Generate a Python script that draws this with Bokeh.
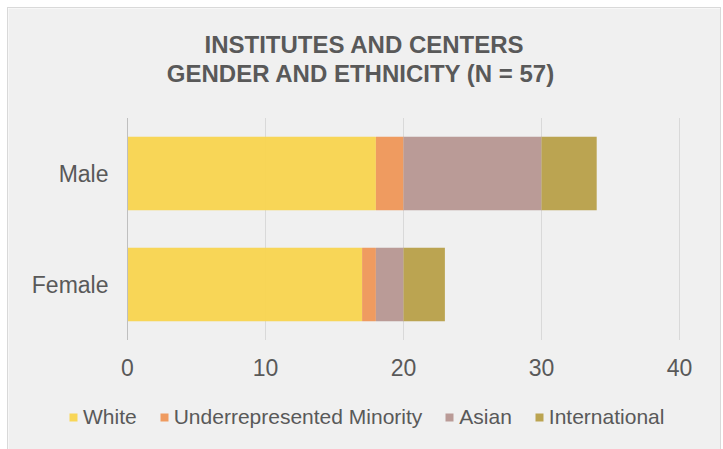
from bokeh.plotting import figure
from bokeh.models import (Range1d, Label, LabelSet, Legend, LegendItem, ColumnDataSource)
from bokeh.core.properties import value
from bokeh.embed import file_html
from bokeh.resources import INLINE

genders = ["Female", "Male"]
groups = ["White", "Underrepresented Minority", "Asian", "International"]
white = [17, 18]
urm = [1, 2]
asian = [2, 10]
international = [3, 4]
colors = ["#F9D44B", "#EF9455", "#B69490", "#B79E45"]
x_ticks = [0, 10, 20, 30, 40]
title_lines = ["INSTITUTES AND CENTERS", "GENDER AND ETHNICITY  (N = 57)"]

FONT = "Liberation Sans"
TXT = "#595959"
BG = "#f0f0f0"
GRID = "#d9d9d9"
AXIS = "#bfbfbf"

# ---- layout (canvas pixels) ----
W, H = 712, 441
X0_PX, X40_PX = 119, 671          # where first / last tick fall
CAT0_PX, PX_PER_CAT = 276, 111    # centre of first category, spacing
ppx = (X40_PX - X0_PX) / (x_ticks[-1] - x_ticks[0])

def x_at(px):
    return x_ticks[0] + (px - X0_PX) / ppx

def y_at(px):
    return (CAT0_PX - px) / PX_PER_CAT

n = len(genders)
idx = list(range(n))
cat_lo, cat_hi = -0.5, n - 0.5

p = figure(width=W, height=H, x_range=Range1d(x_at(0), x_at(W)),
           y_range=Range1d(y_at(H), y_at(0)),
           output_backend="svg", toolbar_location=None,
           x_axis_location=None, y_axis_location=None,
           min_border=0, background_fill_color=BG, border_fill_color=BG,
           margin=(8, 0, 0, 8), styles={"outline": "1px solid #d9d9d9"})
p.outline_line_color = None
p.grid.visible = False

# vertical grid lines at the x ticks, spanning the category band
p.segment(x0=x_ticks, x1=x_ticks, y0=[cat_lo] * len(x_ticks), y1=[cat_hi] * len(x_ticks),
          line_color=GRID, line_width=1)

data = dict(y=idx, White=white, **{"Underrepresented Minority": urm},
            Asian=asian, International=international)
rs = p.hbar_stack(groups, y="y", height=0.66, color=colors, source=data,
                  fill_alpha=0.93, line_color=None)

# category axis line at x = 0
p.segment(x0=[x_ticks[0]], x1=[x_ticks[0]], y0=[cat_lo], y1=[cat_hi],
          line_color=AXIS, line_width=1)

# category labels
cat_src = ColumnDataSource(dict(x=[x_ticks[0]] * n, y=idx, text=genders))
p.add_layout(LabelSet(x="x", y="y", text="text", source=cat_src, x_offset=-19,
                      text_align="right", text_baseline="middle",
                      text_font=value(FONT), text_font_size=value("23px"),
                      text_color=value(TXT)))

# x tick labels under the band
tick_src = ColumnDataSource(dict(x=x_ticks, y=[y_at(359)] * len(x_ticks),
                                 text=[str(t) for t in x_ticks]))
p.add_layout(LabelSet(x="x", y="y", text="text", source=tick_src,
                      text_align="center", text_baseline="middle",
                      text_font=value(FONT), text_font_size=value("23px"),
                      text_color=value(TXT)))

# title
for t, py in zip(title_lines, [36, 65]):
    p.add_layout(Label(x=x_at(W / 2), y=y_at(py), text=t,
                       text_align="center", text_baseline="middle",
                       text_font=FONT, text_font_style="bold", text_font_size="24px",
                       text_color=TXT))

legend = Legend(items=[LegendItem(label=g, renderers=[r]) for g, r in zip(groups, rs)],
                orientation="horizontal", location=(60, 20),
                background_fill_alpha=0, border_line_color=None,
                padding=0, margin=0, spacing=22, label_standoff=5,
                glyph_width=10, glyph_height=10,
                label_text_font=FONT, label_text_font_size="21px", label_text_color=TXT)
p.add_layout(legend, "center")

open("out.html", "w").write(file_html(p, INLINE))
